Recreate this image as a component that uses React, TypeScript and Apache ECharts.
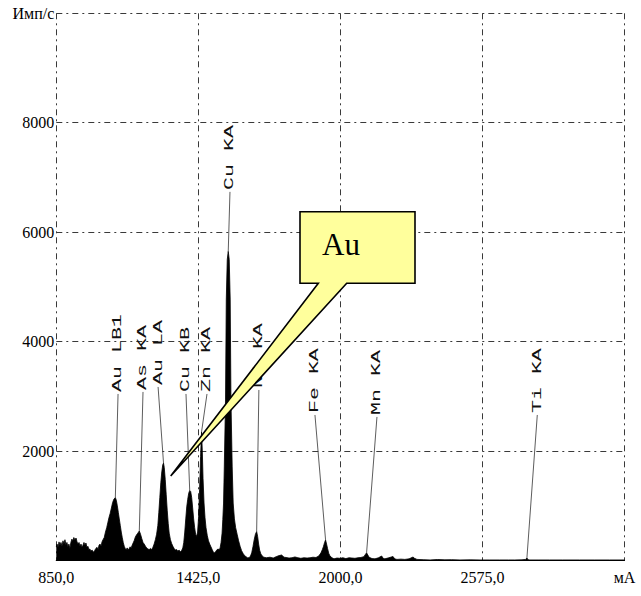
import React, { useEffect, useRef } from "react";
import * as echarts from "echarts";

// Spectrum (x: channel in mA scale units, y: counts per second)
const spectrumX = [
  850, 853, 857, 861, 865, 869, 873, 877, 881, 885, 889, 893, 897, 901, 905, 909, 913, 917, 921, 925,
  930, 934, 938, 942, 946, 950, 954, 958, 962, 966, 970, 974, 978, 982, 986, 990, 995, 1000, 1005, 1010,
  1015, 1019, 1023, 1027, 1031, 1035, 1039, 1044, 1049, 1054, 1059, 1063, 1068, 1073, 1078, 1083, 1089, 1093,
  1097, 1101, 1105, 1109, 1113, 1117, 1121, 1125, 1129, 1133, 1137, 1141, 1145, 1149, 1153, 1157, 1161, 1165,
  1170, 1175, 1180, 1186, 1191, 1196, 1201, 1206, 1211, 1216, 1221, 1226, 1231, 1236, 1241, 1246, 1251, 1256,
  1261, 1265, 1269, 1273, 1277, 1281, 1284, 1287, 1291, 1295, 1299, 1303, 1307, 1312, 1317, 1322, 1327, 1332,
  1337, 1342, 1347, 1352, 1357, 1362, 1366, 1370, 1374, 1378, 1382, 1386, 1390, 1394, 1398, 1402, 1406, 1410,
  1414, 1418, 1422, 1426, 1430, 1434, 1438, 1441, 1444, 1448, 1452, 1456, 1461, 1466, 1471, 1476, 1481, 1486,
  1491, 1496, 1501, 1506, 1509, 1513, 1517, 1521, 1524, 1527, 1530, 1535, 1538, 1542, 1546, 1550, 1554, 1557,
  1562, 1566, 1571, 1576, 1582, 1588, 1594, 1600, 1606, 1612, 1618, 1624, 1630, 1636, 1641, 1646, 1651, 1656,
  1661, 1665, 1669, 1673, 1678, 1684, 1690, 1700, 1715, 1728, 1740, 1752, 1762, 1772, 1780, 1792, 1804, 1816,
  1828, 1840, 1852, 1865, 1877, 1889, 1901, 1912, 1921, 1927, 1931, 1936, 1940, 1944, 1948, 1953, 1958, 1966,
  1974, 1986, 1998, 2010, 2022, 2035, 2047, 2059, 2071, 2083, 2095, 2101, 2106, 2111, 2116, 2128, 2140, 2154,
  2167, 2173, 2180, 2196, 2213, 2220, 2229, 2245, 2261, 2278, 2294, 2300, 2310, 2335, 2363, 2393, 2423, 2450,
  2484, 2525, 2565, 2605, 2645, 2680, 2706, 2735, 2750, 2755, 2760, 2767, 2800, 2847, 2900, 2968, 3030, 3090,
  3150,
];
const spectrumY = [
  250, 300, 240, 340, 280, 330, 260, 360, 300, 380, 290, 330, 250, 300, 220, 330, 390, 360, 420, 380,
  410, 340, 300, 330, 260, 300, 240, 280, 330, 280, 320, 240, 260, 200, 210, 170, 190, 150, 180, 220,
  240, 200, 280, 300, 260, 340, 380, 420, 520, 600, 700, 780, 860, 960, 1060, 1120, 1150, 1100,
  1000, 880, 760, 640, 520, 420, 330, 260, 220, 200, 230, 190, 220, 250, 230, 280, 320, 360,
  430, 470, 500, 540, 480, 400, 330, 300, 260, 230, 210, 200, 220, 200, 240, 300, 380, 480,
  640, 880, 1150, 1420, 1620, 1750, 1780, 1700, 1480, 1200, 920, 680, 500, 380, 310, 260, 220, 190,
  200, 170, 190, 160, 180, 230, 330, 520, 760, 980, 1120, 1230, 1280, 1260, 1150, 960, 760, 600,
  480, 440, 520, 800, 1300, 1900, 2350, 2000, 1500, 1050, 780, 600, 460, 360, 300, 250, 200, 150,
  140, 170, 200, 210, 190, 228, 330, 500, 750, 1050, 1710, 2934, 4762, 5500, 5650, 5500, 4762, 2934,
  1710, 1050, 760, 600, 480, 360, 260, 180, 130, 90, 70, 50, 50, 80, 140, 250, 380, 480,
  530, 440, 300, 190, 120, 80, 60, 50, 60, 45, 70, 90, 100, 60, 55, 45, 50, 65,
  50, 40, 50, 45, 50, 60, 55, 80, 137, 200, 250, 330, 375, 300, 220, 130, 80, 50,
  30, 45, 40, 50, 35, 50, 45, 40, 50, 55, 70, 110, 140, 100, 60, 35, 30, 50,
  82, 40, 30, 50, 73, 30, 20, 25, 20, 30, 64, 40, 20, 15, 10, 18, 12, 15,
  10, 12, 10, 10, 10, 10, 10, 12, 20, 46, 15, 10, 10, 10, 10, 10, 10, 10,
  10,
];

// Peak identifications
const peakNames = ["Au LB1", "As KA", "Au LA", "Cu KB", "Zn KA", "Cu KA", "Ni KA", "Fe KA", "Mn KA", "Ti KA"];
const peakX = [1089, 1186, 1284, 1390, 1438, 1546, 1661, 1940, 2106, 2755];
const peakY = [1150, 540, 1780, 1280, 2350, 5650, 530, 375, 140, 46];
const labelX = [1100, 1201, 1262, 1375, 1460, 1553, 1670, 1897, 2148, 2797];
const labelY = [3080, 3117, 3208, 3080, 3080, 6773, 3153, 2696, 2660, 2696];

const xMin = 850;
const xMax = 3150;
const xStep = 575;
const yMin = 0;
const yMax = 10000;
const yStep = 2000;
const xUnit = "мА";
const yUnit = "Имп/с";
const calloutText = "Au";

export default function App() {
  const ref = useRef<HTMLDivElement>(null);
  useEffect(() => {
    if (!ref.current) return;
    const chart = echarts.init(ref.current, null, { renderer: "svg" });
    const gridLine = { show: true, lineStyle: { color: "#3a3a3a", width: 1, type: [6, 4, 2, 4] as any } };
    chart.setOption({
      animation: false,
      backgroundColor: "#ffffff",
      grid: { left: 56.3, right: 16.5, top: 13.3, bottom: 35.5, containLabel: false },
      xAxis: {
        type: "value",
        min: xMin,
        max: xMax,
        interval: xStep,
        axisLine: { show: true, lineStyle: { color: "#000", width: 1.2 } },
        axisTick: { show: false },
        splitLine: gridLine,
        axisLabel: {
          margin: 9,
          color: "#000",
          fontFamily: "Liberation Serif",
          fontSize: 16,
          showMinLabel: true,
          showMaxLabel: true,
          formatter: (v: number) => (v === xMax ? xUnit : v.toFixed(1).replace(".", ",")),
        },
      },
      yAxis: {
        type: "value",
        min: yMin,
        max: yMax,
        interval: yStep,
        axisLine: { show: false },
        axisTick: { show: false },
        splitLine: gridLine,
        axisLabel: {
          margin: 2,
          color: "#000",
          fontFamily: "Liberation Serif",
          fontSize: 16,
          formatter: (v: number) => (v === yMin ? "" : v === yMax ? yUnit : String(v)),
        },
      },
      series: [
        {
          type: "line",
          data: spectrumX.map((x, i) => [x, spectrumY[i]]),
          showSymbol: false,
          lineStyle: { color: "#000", width: 0.8 },
          areaStyle: { color: "#000", opacity: 1 },
          z: 3,
        },
        {
          type: "custom",
          clip: false,
          z: 4,
          data: peakX.map((x, i) => [x, peakY[i], labelX[i], labelY[i]]),
          renderItem: (params: any, api: any) => {
            const i = params.dataIndex;
            const p = api.coord([api.value(0), api.value(1)]);
            const l = api.coord([api.value(2), api.value(3)]);
            return {
              type: "group",
              children: [
                {
                  type: "line",
                  shape: { x1: l[0], y1: l[1] + 2, x2: p[0], y2: p[1] },
                  style: { stroke: "#333", lineWidth: 0.8 },
                },
                {
                  type: "text",
                  x: l[0],
                  y: l[1],
                  rotation: Math.PI / 2,
                  scaleX: 1.8,
                  style: {
                    text: peakNames[i],
                    fontFamily: "Liberation Mono",
                    fontSize: 12,
                    fill: "#111",
                    align: "left",
                    verticalAlign: "middle",
                  },
                },
              ],
            };
          },
        },
      ],
      graphic: [
        {
          type: "polygon",
          z: 100,
          shape: {
            points: [
              [300, 211.7],
              [415, 211.7],
              [415, 283.3],
              [346.7, 283.3],
              [170.7, 476],
              [318.3, 283.3],
              [300, 283.3],
            ],
          },
          style: { fill: "#ffff9c", stroke: "#000", lineWidth: 1.6 },
        },
        {
          type: "text",
          z: 101,
          x: 341,
          y: 244,
          style: {
            text: calloutText,
            fontFamily: "Liberation Serif",
            fontSize: 31,
            fill: "#000",
            align: "center",
            verticalAlign: "middle",
          },
        },
      ],
    });
    return () => chart.dispose();
  }, []);
  return <div ref={ref} style={{ position: "fixed", left: 0, top: 0, width: 641, height: 596 }} />;
}
